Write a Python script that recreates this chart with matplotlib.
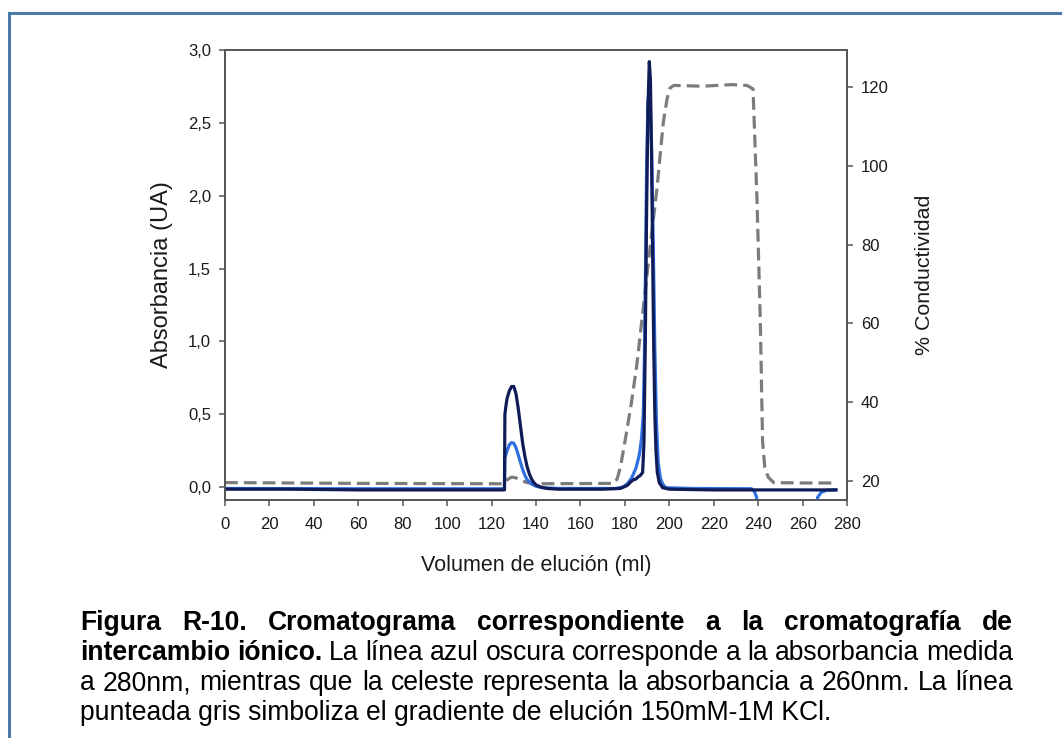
import matplotlib
matplotlib.use('Agg')
import matplotlib.pyplot as plt
from matplotlib.transforms import IdentityTransform
from matplotlib.lines import Line2D

plt.rcParams['font.family'] = ['Liberation Sans', 'DejaVu Sans']

vol_280 = [0, 30, 60, 100, 125.8, 126, 126.5, 127, 128, 129, 130, 131, 132, 133, 134,
           135, 136, 137, 138, 139, 140, 142, 145, 150, 170, 178, 181, 183, 184, 185,
           186, 187, 188, 188.6, 189.2, 189.8, 190.4, 191, 191.5, 192, 192.5, 193,
           193.5, 194, 194.6, 195.5, 197, 200, 220, 240, 260, 275]
abs_280 = [-0.015, -0.015, -0.02, -0.02, -0.02, 0.50, 0.56, 0.61, 0.66, 0.69, 0.69,
           0.64, 0.54, 0.42, 0.30, 0.21, 0.14, 0.09, 0.055, 0.03, 0.015, 0.0, -0.01,
           -0.015, -0.015, -0.01, 0.01, 0.04, 0.05, 0.055, 0.07, 0.08, 0.10, 0.3,
           1.0, 1.9, 2.6, 2.92, 2.8, 2.3, 1.6, 0.95, 0.5, 0.25, 0.1, 0.03, -0.005,
           -0.015, -0.02, -0.02, -0.02, -0.02]

vol_260 = [0, 60, 125.8, 126, 127, 128, 129, 130, 131, 132, 133, 134, 135, 136, 138,
           140, 143, 150, 176, 179, 181, 183, 185, 186.5, 187.5, 188.3, 188.8, 189.3,
           189.8, 190.4, 191.2, 192, 192.8, 193.5, 194.2, 195, 196, 197, 198.5, 210,
           237, 238.3, 239.3, 240.3, 265.5, 266.8, 268.5, 271, 275]
abs_260 = [-0.01, -0.012, -0.012, 0.2, 0.25, 0.29, 0.305, 0.30, 0.27, 0.22, 0.17,
           0.12, 0.08, 0.05, 0.02, 0.005, -0.005, -0.01, -0.01, 0.0, 0.02, 0.06, 0.13,
           0.22, 0.33, 0.5, 0.9, 1.5, 2.2, 2.65, 2.75, 2.35, 1.65, 0.95, 0.45, 0.17,
           0.06, 0.02, -0.005, -0.01, -0.012, -0.03, -0.07, -0.2, -0.2, -0.07, -0.035,
           -0.022, -0.02]

vol_cond = [0, 60, 125.5, 127, 129, 131, 133, 136, 140, 175, 176.5, 178, 180.5, 183,
            185.5, 188, 191, 194.5, 197.3, 199, 200.3, 202, 215, 228, 235, 237.7,
            239.5, 241, 242, 243, 244.5, 247, 260, 274]
cond = [19.6, 19.4, 19.3, 20.3, 21.0, 20.8, 20.2, 19.6, 19.3, 19.4, 20.5, 23.5, 31.5,
        40, 50, 62.5, 77.5, 94.5, 111, 117, 119.7, 120.4, 120.2, 120.6, 120.4, 119.5,
        91, 60, 30, 23.5, 21, 19.6, 19.5, 19.5]

x_ticks = list(range(0, 281, 20))
abs_ticks = [0.0, 0.5, 1.0, 1.5, 2.0, 2.5, 3.0]
abs_tick_labels = ['0,0', '0,5', '1,0', '1,5', '2,0', '2,5', '3,0']
cond_ticks = [20, 40, 60, 80, 100, 120]

x_label = 'Volumen de elución (ml)'
y_label = 'Absorbancia (UA)'
y2_label = '% Conductividad'

caption_lines = [
    [('Figura', 'bold'), ('R-10.', 'bold'), ('Cromatograma', 'bold'),
     ('correspondiente', 'bold'), ('a', 'bold'), ('la', 'bold'),
     ('cromatografía', 'bold'), ('de', 'bold')],
    [('intercambio', 'bold'), ('iónico.', 'bold'), ('La', 'normal'), ('línea', 'normal'),
     ('azul', 'normal'), ('oscura', 'normal'), ('corresponde', 'normal'), ('a', 'normal'),
     ('la', 'normal'), ('absorbancia', 'normal'), ('medida', 'normal')],
    [(w, 'normal') for w in
     'a 280nm, mientras que la celeste representa la absorbancia a 260nm. La línea'.split()],
    [(w, 'normal') for w in
     'punteada gris simboliza el gradiente de elución 150mM-1M KCl.'.split()],
]

# ---------------- figure ----------------
W, H = 1062, 738
fig = plt.figure(figsize=(W / 100, H / 100), dpi=100)
fig.patch.set_facecolor('white')

# blue frame
frame_col = '#4a78a8'
fig.add_artist(Line2D([8.5 / W, 8.5 / W], [0, 1 - 12.5 / H], color=frame_col, lw=2.2,
                      transform=fig.transFigure))
fig.add_artist(Line2D([8.5 / W, 1], [1 - 12.5 / H, 1 - 12.5 / H], color=frame_col, lw=2.2,
                      transform=fig.transFigure))

ax = fig.add_axes([225 / W, 1 - 500 / H, (847 - 225) / W, (500 - 50) / H])
ax2 = ax.twinx()

ax2.plot(vol_cond, cond, color='#7c7c7c', lw=2.3, dashes=(4, 1.9), solid_capstyle='butt')
ax.plot(vol_260, abs_260, color='#2f6fe0', lw=2.3)
ax.plot(vol_280, abs_280, color='#0f1c58', lw=2.3)
ax.set_zorder(ax2.get_zorder() + 1)
ax.patch.set_visible(False)

ax.set_xlim(0, 280)
ax.set_ylim(-0.0892, 3.0)
ax2.set_ylim(15.18, 129.39)

ax.set_xticks(x_ticks)
ax.set_xticklabels([str(v) for v in x_ticks])
ax.set_yticks(abs_ticks)
ax.set_yticklabels(abs_tick_labels)
ax2.set_yticks(cond_ticks)
ax2.set_yticklabels([str(v) for v in cond_ticks])

spine_col = '#555555'
for a in (ax, ax2):
    for s in a.spines.values():
        s.set_color(spine_col)
        s.set_linewidth(1.2)
    a.tick_params(direction='out', length=4, width=1.1, color=spine_col,
                  labelsize=12, labelcolor='#1a1a1a', pad=6)
ax.tick_params(axis='x', pad=8)

ax.set_xlabel(x_label, fontsize=15.5, color='#1a1a1a', labelpad=17)
ax.set_ylabel(y_label, fontsize=17, color='#1a1a1a', labelpad=11)
ax2.set_ylabel(y2_label, fontsize=15.4, color='#1a1a1a', labelpad=19)

# ---------------- caption (justified) ----------------
FS = 19.1
renderer = fig.canvas.get_renderer()
x_left, x_right = 80, 1013
baselines = [630, 660, 690, 720]
for i, (words, yb) in enumerate(zip(caption_lines, baselines)):
    justify = i < len(caption_lines) - 1
    ypix = H - yb
    if justify:
        texts = [fig.text(0, ypix, w, fontsize=FS, fontweight=wt, color='black',
                          transform=IdentityTransform(), ha='left', va='baseline')
                 for w, wt in words]
        widths = [t.get_window_extent(renderer).width for t in texts]
        gap = (x_right - x_left - sum(widths)) / (len(words) - 1)
        x = x_left
        for t, wdt in zip(texts, widths):
            t.set_x(x)
            x += wdt + gap
    else:
        fig.text(x_left, ypix, ' '.join(w for w, _ in words), fontsize=FS,
                 color='black', transform=IdentityTransform(), ha='left', va='baseline')

fig.savefig('out.png', dpi=100)
